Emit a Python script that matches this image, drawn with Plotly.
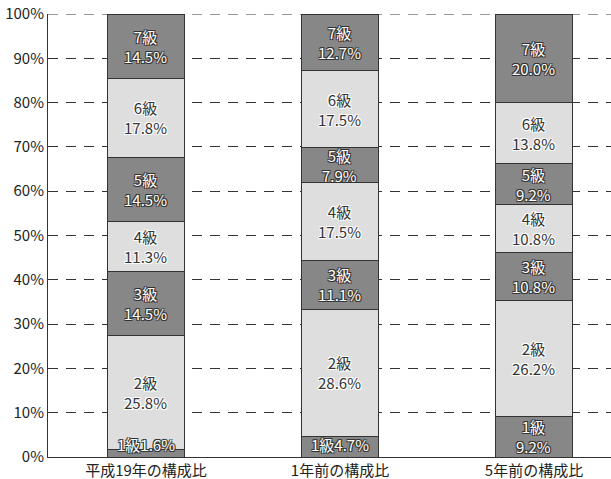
import plotly.graph_objects as go

categories = ["平成19年の構成比", "1年前の構成比", "5年前の構成比"]
grades = ["1級", "2級", "3級", "4級", "5級", "6級", "7級"]
values = {
    "平成19年の構成比": [1.6, 25.8, 14.5, 11.3, 14.5, 17.8, 14.5],
    "1年前の構成比": [4.7, 28.6, 11.1, 17.5, 7.9, 17.5, 12.7],
    "5年前の構成比": [9.2, 26.2, 10.8, 10.8, 9.2, 13.8, 20.0],
}
y_ticks = [0, 10, 20, 30, 40, 50, 60, 70, 80, 90, 100]

DARK = "#878787"
LIGHT = "#dedede"
FONT = "Noto Sans CJK JP"

fig = go.Figure()
for gi, g in enumerate(grades):
    col = DARK if gi % 2 == 0 else LIGHT
    fig.add_trace(go.Bar(
        x=categories,
        y=[values[c][gi] for c in categories],
        name=g,
        marker=dict(color=col, line=dict(color="#333333", width=1)),
        width=0.4,
        showlegend=False,
        hoverinfo="skip",
    ))

annotations = []
for ci, c in enumerate(categories):
    cum = 0
    for gi, g in enumerate(grades):
        v = values[c][gi]
        mid = cum + v / 2
        base = cum
        cum += v
        dark = gi % 2 == 0
        if dark:
            font = dict(family=FONT, size=15, color="#ffffff",
                        shadow="-1px -1px 0 #333, 1px -1px 0 #333, -1px 1px 0 #333, 1px 1px 0 #333")
        else:
            font = dict(family=FONT, size=15, color="#333333",
                        shadow="-1px -1px 0 #fff, 1px -1px 0 #fff, -1px 1px 0 #fff, 1px 1px 0 #fff")
        if v < 5:
            annotations.append(dict(x=c, y=base, xref="x", yref="y",
                                    text=f"{g}{v:.1f}%", yanchor="bottom", yshift=0,
                                    showarrow=False, font=font, align="center"))
        else:
            annotations.append(dict(x=c, y=mid, xref="x", yref="y",
                                    text=f"{g}<br>{v:.1f}%",
                                    showarrow=False, font=font, align="center"))

fig.update_layout(
    barmode="stack",
    width=611, height=479,
    margin=dict(l=48, r=0, t=14, b=22),
    paper_bgcolor="white", plot_bgcolor="white",
    annotations=annotations,
    font=dict(family=FONT, size=15, color="#333333"),
    xaxis=dict(
        range=[-0.505, 2.397],
        showgrid=False, showline=True, linecolor="#333333", linewidth=1,
        ticks="",
        tickfont=dict(family=FONT, size=15, color="#222222"),
    ),
    yaxis=dict(
        range=[0, 100],
        tickvals=y_ticks,
        ticktext=[f"{t}%" for t in y_ticks],
        showgrid=True, gridcolor="#333333", gridwidth=1, griddash="10px,8px",
        showline=True, linecolor="#333333", linewidth=1,
        ticks="", zeroline=False,
        tickfont=dict(family=FONT, size=15, color="#222222"),
    ),
    shapes=[dict(type="line", xref="paper", x0=0, x1=1, yref="y", y0=100, y1=100,
                 line=dict(color="#333333", width=1, dash="10px,8px"), layer="below")],
)

fig.write_html("out.html", config={"displayModeBar": False},
               post_script="document.body.style.margin='0';document.body.style.padding='0';")
